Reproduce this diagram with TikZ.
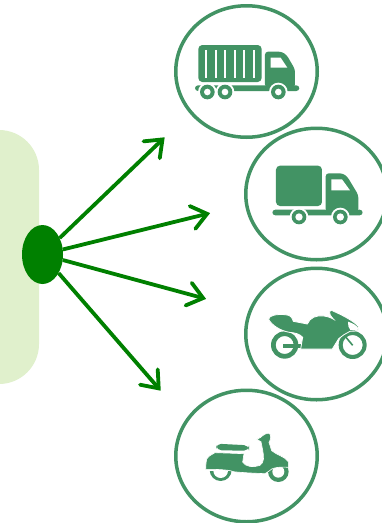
\documentclass[tikz,border=0pt]{standalone}
\usetikzlibrary{shapes.geometric,calc}
\definecolor{ringgreen}{HTML}{429364}
\definecolor{arrowgreen}{HTML}{008000}
\definecolor{panelgreen}{HTML}{E0F0CC}
\tikzset{
  ringnode/.style={draw=ringgreen,line width=3.5pt,ellipse,fill=white,minimum width=141.5pt,minimum height=131.5pt,inner sep=0pt},
  hubnode/.style={ellipse,fill=arrowgreen,minimum width=41pt,minimum height=59pt,inner sep=0pt},
  fanarrow/.style={draw=arrowgreen,line width=3.8pt},
  fanbarb/.style={draw=arrowgreen,line width=3.8pt,line cap=round,line join=miter,miter limit=10},
  ic/.style={fill=ringgreen,draw=none},
  gap/.style={fill=white,draw=none},
  zoomA/.style={shift={(170,0)},scale=0.33333},
  zoomB/.style={shift={(170,260)},scale=0.33333}
}
\newcommand{\wheelat}[3]{%
  \fill[gap] (#1,#2) circle (28);
  \fill[ic] (#1,#2) circle (22);
  \fill[gap] (#1,#2) circle (#3);
}
\newcommand{\fanto}[1]{%
  \coordinate (apex) at ($(#1)!3.5pt!(hub)$);
  \draw[fanarrow] (hub) -- (apex);
  \draw[fanbarb] ($(apex)!19pt!38:(hub)$) -- (apex) -- ($(apex)!19pt!-38:(hub)$);
}
\begin{document}
\begin{tikzpicture}[x=1pt,y=-1pt]
\useasboundingbox (0,0) rectangle (382,523);
\clip (0,0) rectangle (382,523);
\fill[white] (0,0) rectangle (382,523);
% panel
\fill[panelgreen,rounded corners=40pt] (-60,130) rectangle (39,384);
% rings
\node[ringnode] (ringA) at (246.5,71.5) {};
\node[ringnode] (ringD) at (246.5,456) {};
\node[ringnode] (ringB) at (316.5,194) {};
\node[ringnode] (ringC) at (316.5,334) {};
% hub and arrows
\node[hubnode] (hub) at (42.5,254.5) {};
\coordinate (tipA) at (165,137);
\coordinate (tipB) at (210.5,213);
\coordinate (tipC) at (206.5,299);
\coordinate (tipD) at (161,391);
\fanto{tipA}
\fanto{tipB}
\fanto{tipC}
\fanto{tipD}
% container truck
\begin{scope}[zoomA]
\fill[ic,rounded corners=4pt] (85,135) rectangle (275,246);
\foreach \sx in {108,137,165,194,222,251} \fill[gap] (\sx-2.5,150) rectangle (\sx+2.5,233);
\fill[ic,rounded corners=3pt] (285,155) -- (335,155) -- (350,165) -- (375,208) -- (375,262) -- (285,262) -- cycle;
\fill[gap] (302,173) -- (332,173) -- (352,203) -- (302,203) -- cycle;
\fill[ic,rounded corners=3pt] (75,256) rectangle (388,273);
\wheelat{112}{276}{10}
\wheelat{165}{276}{10}
\wheelat{325}{276}{10}
\end{scope}
% box truck
\begin{scope}[zoomA]
\fill[ic,rounded corners=4pt] (318,497) rectangle (456,618);
\fill[ic,rounded corners=3pt] (467,520) -- (518,520) -- (532,530) -- (565,585) -- (565,635) -- (467,635) -- cycle;
\fill[gap] (484,538) -- (516,538) -- (540,571) -- (484,571) -- cycle;
\fill[ic,rounded corners=3pt] (307,629) rectangle (578,646);
\wheelat{387}{651}{11}
\wheelat{511}{651}{11}
\end{scope}
% motorcycle
\begin{scope}[zoomB]
\fill[ic,even odd rule] (344,255) circle (41) (344,255) circle (27);
\fill[ic] (340,253) rectangle (392,264);
\fill[ic,even odd rule] (548,255) circle (42) (548,255) circle (30);
\draw[ringgreen,line width=1.6pt] (528,232) -- (548,256);
\fill[ic,draw=white,line width=0.8pt] (296,178) .. controls (296,166) and (320,162) .. (345,164)
  .. controls (362,165) and (366,172) .. (370,184) -- (412,192)
  .. controls (420,172) and (440,165) .. (462,168)
  .. controls (475,170) and (485,174) .. (491,178)
  .. controls (483,170) and (474,158) .. (482,150)
  .. controls (505,160) and (545,178) .. (564,198)
  .. controls (572,208) and (560,215) .. (540,214)
  -- (522,224) -- (506,236) -- (487,267) -- (392,267) -- (398,232)
  .. controls (390,222) and (375,218) .. (358,217)
  .. controls (330,212) and (305,195) .. (296,178) -- cycle;
\fill[gap] (534,185) .. controls (550,190) and (562,198) .. (565,205)
  .. controls (565,211) and (550,212) .. (541,210) .. controls (536,205) and (533,195) .. (534,185) -- cycle;
\end{scope}
% scooter
\begin{scope}[zoomB]
\fill[ic] (152,630) circle (33);
\fill[gap] (152,632) circle (22);
\fill[gap] (112,610) rectangle (192,633);
\fill[ic] (325,635) circle (31);
\fill[gap] (325,635) circle (18);
\fill[ic,rounded corners=5pt] (138,551) -- (237,556) -- (237,572) -- (140,571) -- cycle;
\fill[ic,draw=white,line width=0.6pt] (110,597) -- (118,588) -- (135,578) -- (222,581) -- (218,606)
  .. controls (225,620) and (250,624) .. (270,616)
  .. controls (283,608) and (282,590) .. (278,570)
  -- (273,545) -- (260,538) -- (272,532)
  .. controls (280,524) and (292,518) .. (298,520)
  .. controls (304,525) and (303,538) .. (297,547)
  -- (305,572) .. controls (320,585) and (345,590) .. (355,605)
  -- (355,622) .. controls (330,620) and (305,622) .. (296,634)
  -- (285,641) .. controls (260,640) and (215,638) .. (190,635)
  .. controls (175,628) and (130,628) .. (107,628) -- (108,610) -- cycle;
\end{scope}
\end{tikzpicture}
\end{document}
